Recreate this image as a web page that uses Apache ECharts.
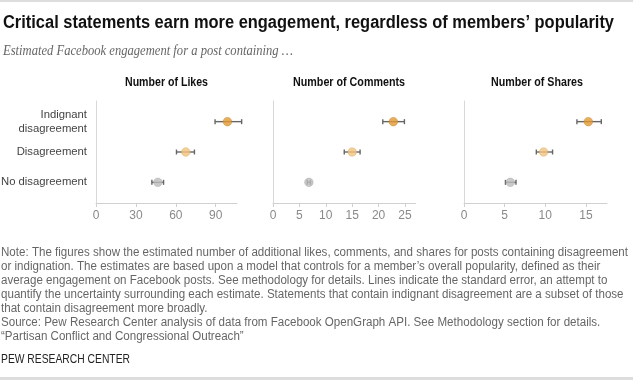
<!DOCTYPE html>
<html>
<head>
<meta charset="utf-8">
<script src="https://cdn.jsdelivr.net/npm/echarts@6/dist/echarts.min.js"></script>
<style>
html,body{margin:0;padding:0;background:#fff;}
#c{width:633px;height:380px;}
</style>
</head>
<body>
<div id="c"></div>
<script>
// ---- data ----
var categories = ['No disagreement', 'Disagreement', 'Indignant\ndisagreement'];
var panelTitles = ['Number of Likes', 'Number of Comments', 'Number of Shares'];
var likesValue = [46.5, 67.5, 98.8];
var likesLow = [42, 60.5, 89.5];
var likesHigh = [50.8, 74, 109.5];
var commentsValue = [6.8, 15.0, 22.8];
var commentsLow = [6.5, 13.5, 20.8];
var commentsHigh = [7.1, 16.5, 24.9];
var sharesValue = [5.7, 9.8, 15.3];
var sharesLow = [5.1, 8.9, 13.9];
var sharesHigh = [6.4, 10.9, 16.9];
var axisMax = [106, 27, 17.6];
var axisInterval = [30, 5, 5];
var dotColors = ['#BDBDBD', '#F1C47E', '#E39A32'];
var dotBorders = ['#A8A8A8', '#DDAA60', '#C9822A'];
var noteLines = [
  'Note: The figures show the estimated number of additional likes, comments, and shares for posts containing disagreement',
  'or indignation. The estimates are based upon a model that controls for a member\u2019s overall popularity, defined as their',
  'average engagement on Facebook posts. See methodology for details. Lines indicate the standard error, an attempt to',
  'quantify the uncertainty surrounding each estimate. Statements that contain indignant disagreement are a subset of those',
  'that contain disagreement more broadly.',
  'Source: Pew Research Center analysis of data from Facebook OpenGraph API. See Methodology section for details.',
  '\u201cPartisan Conflict and Congressional Outreach\u201d'
];

var values = [likesValue, commentsValue, sharesValue];
var lows = [likesLow, commentsLow, sharesLow];
var highs = [likesHigh, commentsHigh, sharesHigh];

var SANS = '"Liberation Sans", Arial, sans-serif';
var SERIF = '"Liberation Serif", "DejaVu Serif", serif';

var mctx = document.createElement('canvas').getContext('2d');
function widthOf(text, font) { mctx.font = font; return mctx.measureText(text).width; }
function fitScale(text, font, target) { return target / widthOf(text, font); }

var grids = [
  {left: 96, top: 101, width: 141, height: 102, outerBoundsMode: 'none', containLabel: false},
  {left: 273, top: 101, width: 142.5, height: 102, outerBoundsMode: 'none', containLabel: false},
  {left: 464, top: 101, width: 143, height: 102, outerBoundsMode: 'none', containLabel: false}
];

var xAxes = [], yAxes = [], series = [];
for (var p = 0; p < 3; p++) {
  xAxes.push({
    type: 'value', gridIndex: p, min: 0, max: axisMax[p], interval: axisInterval[p],
    axisLine: {show: true, onZero: false, lineStyle: {color: '#D0D0D0', width: 1}},
    axisTick: {show: true, length: 4, lineStyle: {color: '#D0D0D0'}},
    splitLine: {show: false},
    axisLabel: {color: '#8a8a8a', fontSize: 12, margin: 7, fontFamily: SANS,
      showMaxLabel: false}
  });
  yAxes.push({
    type: 'value', gridIndex: p, min: -0.68, max: 2.68,
    axisLine: {show: true, onZero: false, lineStyle: {color: '#D8D8D8', width: 1}},
    axisTick: {show: false},
    splitLine: {show: false},
    axisLabel: {
      show: p === 0,
      customValues: [0, 1, 2],
      formatter: function (v) { return categories[Math.round(v)] || ''; },
      color: '#444', fontSize: 11.3, lineHeight: 14.5, margin: 9, fontFamily: SANS, align: 'right'
    }
  });
  var errData = [], dotData = [];
  for (var i = 0; i < categories.length; i++) {
    errData.push([lows[p][i], highs[p][i], i]);
    dotData.push({value: [values[p][i], i],
      itemStyle: {color: dotColors[i], borderColor: dotBorders[i], borderWidth: 0.6}});
  }
  series.push({
    type: 'custom', xAxisIndex: p, yAxisIndex: p, data: errData, silent: true,
    renderItem: function (params, api) {
      var a = api.coord([api.value(0), api.value(2)]);
      var b = api.coord([api.value(1), api.value(2)]);
      var h = 2.5;
      var st = {stroke: '#666', lineWidth: 1.4};
      return {type: 'group', children: [
        {type: 'line', shape: {x1: a[0], y1: a[1], x2: b[0], y2: b[1]}, style: st},
        {type: 'line', shape: {x1: a[0], y1: a[1] - h, x2: a[0], y2: a[1] + h}, style: st},
        {type: 'line', shape: {x1: b[0], y1: b[1] - h, x2: b[0], y2: b[1] + h}, style: st}
      ]};
    }
  });
  series.push({
    type: 'scatter', xAxisIndex: p, yAxisIndex: p, symbolSize: 8.5, data: dotData, z: 5, silent: true
  });
}

var titleText = 'Critical statements earn more engagement, regardless of members\u2019 popularity';
var titleFont = 'bold 18px ' + SANS;
var subText = 'Estimated Facebook engagement for a post containing \u2026';
var subFont = 'italic 14px ' + SERIF;
var noteFont = '12px ' + SANS;
var pewText = 'PEW RESEARCH CENTER';
var pewFont = '13px ' + SANS;

var graphics = [
  {type: 'rect', shape: {x: 0, y: 0, width: 633, height: 2}, style: {fill: '#DDDDDD'}},
  {type: 'rect', shape: {x: 0, y: 377, width: 633, height: 3}, style: {fill: '#DDDDDD'}},
  {type: 'text', x: 3, y: 23, scaleX: fitScale(titleText, titleFont, 611),
    style: {text: titleText, font: titleFont, fill: '#111', verticalAlign: 'middle'}},
  {type: 'text', x: 3, y: 51, scaleX: fitScale(subText, subFont, 290),
    style: {text: subText, font: subFont, fill: '#666', verticalAlign: 'middle'}},
  {type: 'text', x: 1, y: 246, scaleX: fitScale(noteLines[0], noteFont, 627),
    style: {text: noteLines.join('\n'), font: noteFont, fill: '#666', lineHeight: 14, verticalAlign: 'top'}},
  {type: 'text', x: 1, y: 359, scaleX: fitScale(pewText, pewFont, 129),
    style: {text: pewText, font: pewFont, fill: '#222', verticalAlign: 'middle'}}
];
var titleCenters = [166.5, 349, 537];
var titleWidths = [83, 112, 92];
var ptFont = 'bold 12px ' + SANS;
for (var t = 0; t < 3; t++) {
  var s = fitScale(panelTitles[t], ptFont, titleWidths[t]);
  graphics.push({type: 'text', x: titleCenters[t], y: 83, scaleX: s, style: {text: panelTitles[t],
    font: ptFont, fill: '#111', align: 'center', verticalAlign: 'middle'}});
}

var chart = echarts.init(document.getElementById('c'), null, {renderer: 'canvas'});
chart.setOption({
  animation: false,
  backgroundColor: '#fff',
  grid: grids,
  xAxis: xAxes,
  yAxis: yAxes,
  series: series,
  graphic: graphics
});
</script>
</body>
</html>
